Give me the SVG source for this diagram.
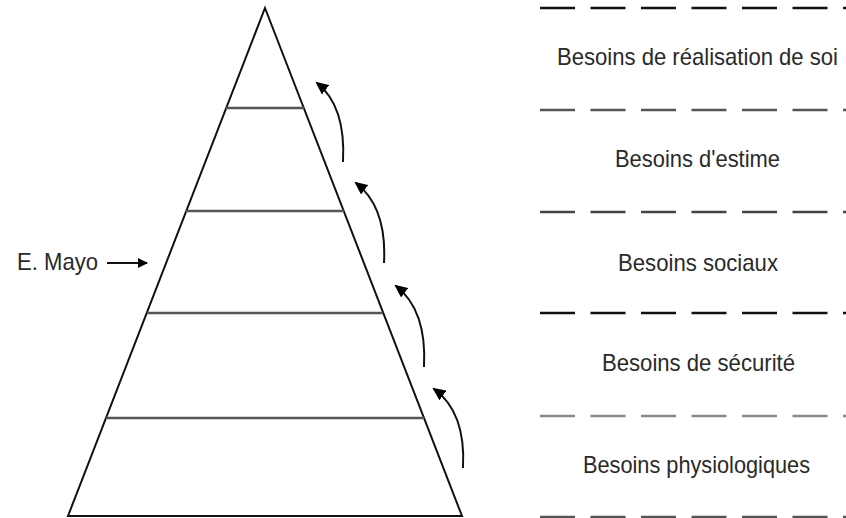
<svg xmlns="http://www.w3.org/2000/svg" width="846" height="518" viewBox="0 0 846 518">
<style>
  .lbl { font-family: "Liberation Sans", Arial, sans-serif; font-size: 24px; fill: #2a2a2a; }
  .edge { fill: none; stroke: #111; stroke-width: 2; }
  .tier { stroke: #555; stroke-width: 2.5; }
  .dash { stroke-width: 2.5; stroke-dasharray: 35 15.5; }
</style>
<defs>
  <marker id="ah" markerUnits="userSpaceOnUse" markerWidth="14" markerHeight="12" refX="11" refY="6" orient="auto">
    <path d="M0,0 L13,6 L0,12 z" fill="#000"/>
  </marker>
  <marker id="ah2" markerUnits="userSpaceOnUse" markerWidth="10" markerHeight="10" refX="9" refY="5" orient="auto">
    <path d="M0,0 L10,5 L0,10 z" fill="#000"/>
  </marker>
</defs>
<rect width="846" height="518" fill="#fff"/>

<g id="pyramid">
  <polygon points="265,8 462,516 68,516" fill="none" stroke="#111" stroke-width="2"/>
  <line class="tier" x1="226" y1="108" x2="304" y2="108"/>
  <line class="tier" x1="186" y1="211" x2="344" y2="211"/>
  <line class="tier" x1="147" y1="313" x2="383" y2="313"/>
  <line class="tier" x1="106" y1="418" x2="424" y2="418"/>
</g>

<g id="levels">
  <line class="dash" x1="540" y1="8" x2="846" y2="8" stroke="#111"/>
  <line class="dash" x1="540" y1="110" x2="846" y2="110" stroke="#555"/>
  <line class="dash" x1="540" y1="212" x2="846" y2="212" stroke="#444"/>
  <line class="dash" x1="540" y1="313" x2="846" y2="313" stroke="#111"/>
  <line class="dash" x1="540" y1="416" x2="846" y2="416" stroke="#888"/>
  <line class="dash" x1="540" y1="517" x2="846" y2="517" stroke="#555"/>
</g>

<g id="n-realisation"><text class="lbl" x="557" y="65" textLength="281" lengthAdjust="spacingAndGlyphs">Besoins de réalisation de soi</text></g>
<g id="n-estime"><text class="lbl" x="615" y="167" textLength="165" lengthAdjust="spacingAndGlyphs">Besoins d'estime</text></g>
<g id="n-sociaux"><text class="lbl" x="618" y="271" textLength="160" lengthAdjust="spacingAndGlyphs">Besoins sociaux</text></g>
<g id="n-securite"><text class="lbl" x="602" y="371" textLength="193" lengthAdjust="spacingAndGlyphs">Besoins de sécurité</text></g>
<g id="n-physio"><text class="lbl" x="583" y="473" textLength="227" lengthAdjust="spacingAndGlyphs">Besoins physiologiques</text></g>
<g id="n-mayo"><text class="lbl" x="17" y="270" textLength="81" lengthAdjust="spacingAndGlyphs">E. Mayo</text></g>

<g id="connectors">
  <line class="edge" x1="107" y1="263" x2="147" y2="263" marker-end="url(#ah2)"/>
  <path class="edge" d="M343,162 Q346,106 317,83" marker-end="url(#ah)"/>
  <path class="edge" d="M384,263 Q387,207 356,183" marker-end="url(#ah)"/>
  <path class="edge" d="M424,367 Q427,310 396,286" marker-end="url(#ah)"/>
  <path class="edge" d="M463,468 Q466,412 434,389" marker-end="url(#ah)"/>
</g>
</svg>
